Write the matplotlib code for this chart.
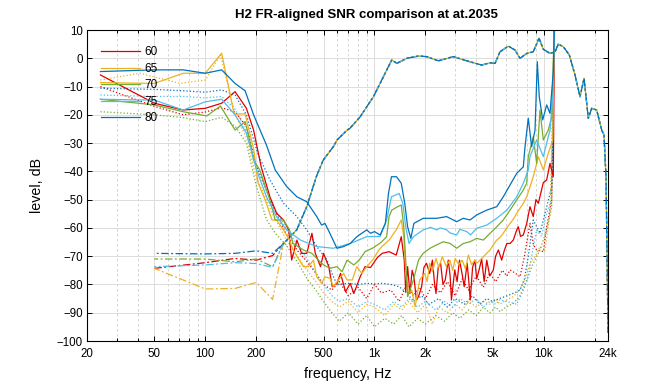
import matplotlib
matplotlib.use('Agg')
import matplotlib.pyplot as plt
from matplotlib.ticker import FixedLocator, NullFormatter, LogLocator

plt.rcParams['font.family'] = ['Liberation Sans', 'DejaVu Sans']

# levels and colours
levels = ['60', '65', '70', '75', '80']
colors = ['#e00000', '#edb120', '#77ac30', '#4dbeee', '#0072bd']

# H2 (solid) per level
h2_60_f = [24, 50, 74, 100, 125, 150, 175, 193, 214, 241,
           264, 290, 311, 324, 348, 371, 398, 427, 447, 480,
           500, 537, 563, 600, 630, 675, 719, 755, 823, 880,
           948, 1040, 1110, 1220, 1345, 1440, 1500, 1530, 1570, 1620,
           1670, 1710, 1770, 1820, 1900, 1960, 2030, 2120, 2200, 2260,
           2310, 2380, 2460, 2540, 2620, 2730, 2800, 2850, 2980, 3080,
           3180, 3290, 3390, 3530, 3600, 3680, 3800, 3920, 4020, 4150,
           4300, 4450, 4610, 4800, 5040, 5200, 5400, 5650, 5850, 6060,
           6330, 6615, 6930, 7080, 7300, 7580, 7940, 8300, 8680, 9000,
           9300, 9950, 10420, 10900, 11400, 11600]
h2_60_db = [-5.9, -15.9, -18.3, -17.7, -15.9, -11.8, -17.7, -25.4, -38.4, -49.0,
            -54.8, -57.2, -60.7, -71.4, -64.3, -69.0, -69.0, -61.9, -69.0, -73.7,
            -69.0, -73.7, -80.8, -79.6, -76.1, -82.6, -79.6, -83.2, -77.3, -73.7,
            -74.0, -70.5, -69.0, -68.4, -69.6, -63.1, -71.4, -82.6, -73.7, -83.2,
            -75.0, -77.3, -85.5, -84.3, -80.8, -74.0, -72.5, -76.1, -71.4, -79.0,
            -83.2, -74.0, -72.5, -80.0, -78.4, -71.4, -77.0, -85.5, -74.9, -79.0,
            -71.4, -76.0, -80.8, -72.5, -78.0, -85.5, -74.0, -71.4, -78.0, -74.9,
            -71.0, -79.0, -71.4, -77.0, -74.9, -70.0, -67.8, -71.4, -68.0, -65.5,
            -65.5, -64.3, -60.7, -59.6, -63.0, -62.5, -58.4, -52.5, -56.0, -50.0,
            -51.3, -44.0, -43.0, -37.2, -41.9, 15.0]

h2_65_f = [24, 50, 74, 100, 125, 148, 172, 193, 205, 226,
           248, 264, 290, 315, 330, 380, 407, 436, 456, 487,
           510, 546, 572, 612, 657, 689, 740, 786, 843, 900,
           986, 1056, 1110, 1220, 1345, 1440, 1490, 1530, 1590, 1660,
           1740, 1850, 1980, 2050, 2120, 2200, 2310, 2400, 2520, 2650,
           2790, 2900, 3000, 3150, 3300, 3450, 3590, 3750, 3920, 4020,
           4400, 4600, 4820, 5040, 5280, 5500, 5770, 6050, 6330, 6600,
           6930, 7580, 7940, 8680, 9300, 9950, 10650, 11310, 11600]
h2_65_db = [-8.6, -8.9, -5.3, -5.3, 1.8, -19.7, -19.7, -32.0, -44.0, -50.1,
            -57.2, -57.2, -60.7, -64.3, -67.8, -73.7, -73.7, -71.4, -77.3, -79.6,
            -77.3, -77.8, -80.8, -78.4, -76.1, -78.4, -78.4, -73.7, -76.1, -73.7,
            -71.0, -68.0, -66.5, -64.3, -60.7, -57.2, -63.1, -74.9, -83.2, -82.0,
            -87.9, -78.4, -76.1, -79.0, -72.5, -75.5, -70.8, -74.0, -70.2, -73.5,
            -71.4, -75.0, -70.8, -73.0, -71.4, -74.5, -69.6, -73.0, -71.4, -72.5,
            -70.2, -69.0, -67.8, -66.0, -64.3, -63.5, -61.9, -60.0, -58.4, -57.0,
            -54.8, -51.3, -49.0, -41.9, -34.8, -39.5, -33.6, -28.9, 15.0]

h2_70_f = [24, 50, 74, 102, 123, 150, 172, 183, 193, 210,
           241, 259, 290, 315, 330, 380, 427, 456, 500, 546,
           600, 643, 689, 755, 812, 880, 986, 1100, 1180, 1220,
           1265, 1370, 1440, 1490, 1530, 1570, 1700, 1820, 1940, 2130,
           2330, 2550, 2800, 3060, 3350, 3670, 4020, 4400, 4820, 5280,
           5770, 6330, 6930, 7580, 7940, 8110, 8680, 9090, 9510, 9950,
           10650, 11160, 11600]
h2_70_db = [-14.5, -16.5, -18.9, -20.4, -16.9, -25.4, -22.4, -28.9, -36.0, -39.5,
            -50.1, -57.2, -57.2, -60.7, -65.5, -67.8, -69.0, -70.8, -73.1, -74.3,
            -73.7, -75.5, -71.4, -73.1, -71.4, -68.4, -67.0, -65.0, -63.1, -56.0,
            -53.7, -52.5, -51.9, -59.6, -71.4, -84.3, -78.4, -71.4, -69.0, -67.2,
            -66.0, -64.9, -65.5, -67.2, -65.5, -64.9, -63.7, -64.3, -61.9, -59.6,
            -57.2, -53.7, -50.1, -46.6, -44.2, -34.8, -27.7, -37.2, -18.3, -28.9,
            -25.4, -20.7, 15.0]

h2_75_f = [24, 50, 74, 100, 125, 150, 175, 201, 230, 264,
           303, 365, 456, 571, 719, 900, 1080, 1180, 1260, 1400,
           1470, 1530, 1600, 1700, 1940, 2150, 2330, 2450, 2670, 2800,
           3060, 3200, 3510, 3700, 4020, 4610, 5280, 6060, 6930, 7580,
           8110, 8300, 9090, 9950, 10900, 11400, 11600]
h2_75_db = [-14.5, -14.8, -18.3, -15.4, -14.5, -20.0, -26.5, -39.5, -49.0, -56.0,
            -60.7, -64.3, -66.6, -67.2, -65.5, -63.1, -63.0, -57.2, -49.0, -47.8,
            -51.3, -59.6, -65.5, -63.1, -60.7, -59.8, -60.7, -60.0, -60.7, -61.8,
            -62.5, -60.5, -61.3, -62.5, -60.1, -59.0, -56.6, -53.7, -49.0, -44.2,
            -39.5, -34.8, -28.9, -34.8, -25.4, -11.2, 15.0]

h2_80_f = [24, 50, 74, 100, 125, 150, 172, 193, 230, 259,
           303, 348, 397, 456, 487, 510, 546, 600, 657, 719,
           787, 900, 948, 1000, 1080, 1160, 1210, 1260, 1350, 1440,
           1510, 1570, 1640, 1710, 1940, 2330, 2670, 3060, 3350, 3670,
           4020, 4610, 5280, 5770, 6330, 6930, 7580, 7760, 8110, 8490,
           8890, 9170, 9420, 9870, 10420, 10900, 11400, 11600]
h2_80_db = [-4.7, -4.1, -4.1, -5.3, -4.1, -8.9, -11.5, -20.0, -30.7, -39.5,
            -45.4, -49.0, -50.7, -56.0, -59.0, -58.4, -62.0, -67.2, -66.6, -65.5,
            -63.1, -60.7, -61.9, -61.3, -62.5, -58.4, -47.8, -41.9, -41.9, -44.2,
            -51.3, -59.6, -63.7, -58.4, -56.6, -56.6, -56.0, -57.8, -56.6, -57.2,
            -55.4, -53.7, -52.5, -49.0, -44.8, -40.7, -38.4, -31.3, -21.2, -31.3,
            -25.4, -1.2, -13.6, -21.8, -16.5, -19.5, -4.7, 15.0]

# noise floor (dotted) per level
n_60_f = [24, 50, 74, 100, 125, 150, 175, 200, 250, 300,
          350, 400, 450, 500, 560, 620, 700, 800, 900, 1000,
          1100, 1250, 1400, 1550, 1700, 1850, 2000, 2200, 2450, 2700,
          3000, 3300, 3600, 4000, 4400, 4800, 5200, 5700, 6060, 6330,
          6800, 7250, 7700, 8300, 8700, 9090, 9950, 10420, 11160, 11600]
n_60_db = [-10.0, -17.0, -20.0, -19.0, -17.5, -19.0, -24.0, -38.0, -52.0, -62.0,
           -68.0, -72.0, -76.0, -80.0, -82.0, -79.0, -84.0, -81.0, -85.0, -80.0,
           -83.0, -82.0, -86.0, -80.0, -84.0, -81.0, -85.0, -80.0, -83.0, -79.0,
           -84.0, -78.0, -82.0, -77.0, -81.0, -76.0, -79.0, -75.0, -77.0, -74.9,
           -76.0, -77.3, -70.0, -58.4, -66.0, -67.8, -68.4, -59.6, -50.1, 15.0]

n_65_f = [24, 41, 71, 100, 123, 150, 175, 200, 250, 300,
          350, 400, 450, 500, 560, 620, 700, 800, 900, 1000,
          1150, 1300, 1450, 1600, 1800, 2000, 2200, 2400, 2700, 3000,
          3300, 3600, 4000, 4400, 4800, 5200, 5520, 6000, 6615, 7200,
          7800, 8300, 8900, 9510, 10150, 10900, 11600]
n_65_db = [-7.7, -5.3, -8.9, -7.7, 1.2, -20.0, -28.0, -42.0, -55.0, -64.0,
           -70.0, -75.0, -79.0, -83.0, -86.0, -88.0, -86.0, -90.0, -87.0, -88.0,
           -91.0, -87.0, -89.0, -86.0, -90.0, -87.0, -94.0, -88.0, -90.0, -87.0,
           -89.0, -86.0, -88.0, -86.0, -87.0, -85.0, -87.0, -85.5, -84.3, -82.0,
           -78.0, -72.5, -70.0, -66.6, -68.4, -54.8, 15.0]

n_70_f = [24, 50, 74, 100, 125, 150, 175, 200, 230, 260,
          300, 350, 400, 450, 500, 560, 620, 700, 800, 900,
          1000, 1150, 1300, 1450, 1600, 1800, 2000, 2300, 2600, 2900,
          3200, 3600, 4000, 4400, 4800, 5200, 5520, 6000, 6615, 7250,
          7940, 8680, 9510, 10420, 11160, 11600]
n_70_db = [-18.9, -20.0, -21.0, -22.4, -20.9, -24.0, -30.0, -45.0, -57.0, -62.0,
           -66.0, -72.0, -78.0, -82.0, -86.0, -90.0, -93.0, -90.0, -94.0, -91.0,
           -95.0, -92.0, -94.0, -91.0, -95.0, -92.0, -94.0, -91.0, -93.0, -90.0,
           -92.0, -89.0, -91.0, -88.0, -90.0, -88.0, -89.6, -88.0, -86.7, -84.0,
           -78.4, -72.5, -67.8, -60.7, -52.5, 15.0]

n_75_f = [24, 50, 74, 100, 125, 150, 175, 200, 250, 300,
          350, 400, 450, 500, 560, 620, 700, 800, 900, 1000,
          1150, 1300, 1450, 1600, 1800, 2000, 2300, 2600, 2900, 3200,
          3600, 4000, 4400, 4800, 5200, 5520, 6000, 6930, 7600, 8110,
          8600, 9090, 9700, 10420, 11100, 11600]
n_75_db = [-13.0, -13.5, -13.5, -14.0, -13.5, -18.0, -26.0, -38.0, -52.0, -60.0,
           -66.0, -71.0, -76.0, -80.0, -84.0, -86.0, -85.0, -88.0, -86.0, -87.0,
           -89.0, -86.0, -88.0, -85.0, -88.0, -86.0, -89.0, -86.0, -88.0, -85.0,
           -87.0, -85.0, -88.0, -86.0, -87.0, -85.4, -86.0, -87.0, -82.0, -77.3,
           -68.0, -60.7, -63.0, -54.8, -50.0, 15.0]

n_80_f = [24, 50, 74, 100, 125, 150, 175, 204, 241, 290,
          348, 398, 456, 525, 560, 600, 700, 800, 900, 1000,
          1110, 1250, 1400, 1550, 1700, 1900, 2100, 2400, 2700, 3000,
          3400, 3800, 4200, 4600, 5000, 5520, 6100, 6700, 7250, 7700,
          8110, 8680, 9510, 10420, 11160, 11600]
n_80_db = [-10.6, -11.0, -11.5, -12.0, -11.2, -13.0, -20.0, -33.6, -43.0, -51.3,
           -56.0, -60.7, -66.6, -71.4, -76.0, -80.0, -79.6, -80.0, -79.6, -79.8,
           -79.6, -80.0, -80.8, -83.0, -86.0, -84.0, -87.0, -85.0, -88.0, -85.0,
           -87.0, -84.0, -87.0, -85.0, -86.0, -84.9, -84.0, -83.0, -82.0, -78.0,
           -70.2, -57.2, -61.9, -52.5, -45.4, 15.0]

# frequency response (dash-dot): low part per level, shared part above 290 Hz
fr_low_f = [50, 100, 150, 200, 250]
fr_low_60 = [-74.3, -72.3, -70.8, -71.4, -69.8]
fr_low_65 = [-74.3, -81.6, -81.4, -79.3, -85.3]
fr_low_70 = [-71.0, -71.0, -72.0, -71.0, -73.7]
fr_low_75 = [-73.7, -73.1, -72.3, -72.6, -74.0]
fr_low_80 = [-69.0, -69.2, -69.0, -68.1, -69.0]
fr_hi_f = [290, 347, 398, 455, 498, 571, 601, 689, 715, 823,
           986, 1104, 1265, 1357, 1556, 1823, 2025, 2390, 2920, 3510,
           4300, 4820, 5160, 5520, 6180, 6770, 7250, 7940, 8680, 9390,
           9950, 10900, 11680, 12200, 13060, 14170, 15320, 16400, 17320, 18360,
           19230, 20580, 22030, 22730, 23360, 23700, 24000]
fr_hi_db = [-65.5, -60.7, -52.5, -41.6, -36.0, -31.3, -28.9, -25.4, -24.8, -20.7,
            -13.6, -7.7, -0.6, -1.8, 0.0, 0.8, 0.6, -0.9, 0.6, -0.9,
            -2.4, -1.6, -1.8, 2.3, 4.3, 2.9, 0.0, 1.7, 2.3, 7.1,
            3.2, 1.7, 2.3, 5.0, 4.1, 1.2, -5.9, -13.6, -7.1, -21.2,
            -17.7, -18.3, -25.4, -27.1, -41.9, -70.0, -97.0]

xtick_vals = [20, 50, 100, 200, 500, 1000, 2000, 5000, 10000, 24000]
xtick_labels = ['20', '50', '100', '200', '500', '1k', '2k', '5k', '10k', '24k']

h2_f = [h2_60_f, h2_65_f, h2_70_f, h2_75_f, h2_80_f]
h2_db = [h2_60_db, h2_65_db, h2_70_db, h2_75_db, h2_80_db]
n_f = [n_60_f, n_65_f, n_70_f, n_75_f, n_80_f]
n_db = [n_60_db, n_65_db, n_70_db, n_75_db, n_80_db]
fr_low = [fr_low_60, fr_low_65, fr_low_70, fr_low_75, fr_low_80]

fig = plt.figure(figsize=(6.72, 3.84), dpi=100)
ax = fig.add_axes([87 / 672, 43 / 384, 521 / 672, 311 / 384])

for i in range(5):
    ax.plot(n_f[i], n_db[i], linestyle=':', color=colors[i], lw=0.9)
for i in range(5):
    ax.plot(fr_low_f + fr_hi_f, fr_low[i] + fr_hi_db, color=colors[i], lw=0.9,
            linestyle=(i * 1.5, (6, 2, 1.5, 2)))
handles = []
for i in range(5):
    ln, = ax.plot(h2_f[i], h2_db[i], '-', color=colors[i], lw=0.9, label=levels[i])
    handles.append(ln)

ax.set_xscale('log')
ax.set_xlim(20, 24000)
ax.set_ylim(-100, 10)
ax.set_yticks(range(-100, 11, 10))
ax.xaxis.set_major_locator(FixedLocator(xtick_vals))
ax.set_xticklabels(xtick_labels)
ax.xaxis.set_minor_locator(LogLocator(base=10, subs=(2, 3, 4, 5, 6, 7, 8, 9), numticks=20))
ax.xaxis.set_minor_formatter(NullFormatter())

ax.grid(True, which='major', color='#dcdcdc', lw=0.7, ls='-')
ax.grid(True, which='minor', axis='x', color='#cfcfcf', lw=0.6, ls=(0, (3, 3)))
ax.set_axisbelow(True)

ax.tick_params(which='both', direction='in', top=True, right=True, labelsize=8.3, width=0.7)
ax.tick_params(axis='x', pad=5)
ax.tick_params(axis='y', pad=3)
ax.tick_params(which='major', length=3.5)
ax.tick_params(which='minor', length=2)
for s in ax.spines.values():
    s.set_linewidth(0.8)

ax.set_xlabel('frequency, Hz', fontsize=10.3, labelpad=5)
ax.set_ylabel('level, dB', fontsize=10.3, labelpad=9)
fig.text(366 / 672, 1 - 15 / 384, 'H2 FR-aligned SNR comparison at at.2035',
         ha='center', va='center', fontsize=9.5, fontweight='bold')

ax.legend(handles=handles, loc='upper left', bbox_to_anchor=(0.027, 0.947), frameon=False,
          fontsize=8.5, handlelength=3.3, handletextpad=0.4, labelspacing=0.38,
          borderpad=0, borderaxespad=0)

fig.savefig('out.png', dpi=100)
